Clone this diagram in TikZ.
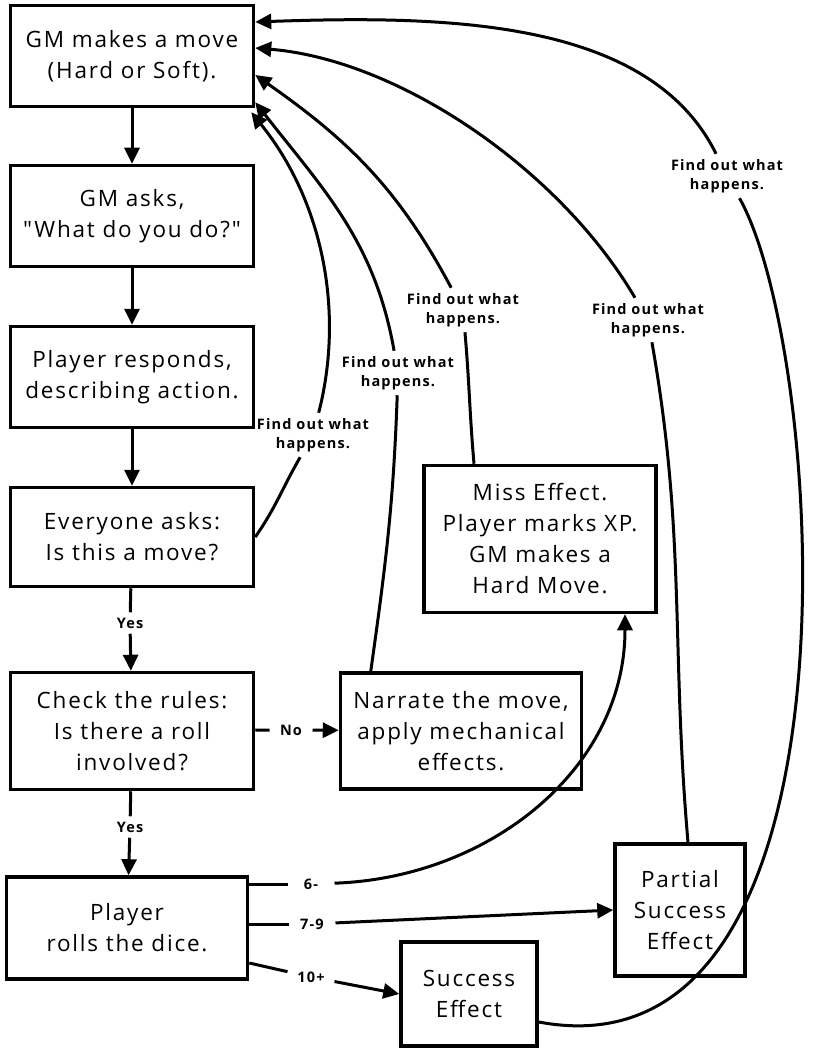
\documentclass[tikz,border=0pt]{standalone}
\usepackage{fontspec}
\setmainfont{Open Sans}[LetterSpace=8,Ligatures=TeXOff]
\usetikzlibrary{arrows.meta}
\tikzset{
	box/.style={draw,line width=3.5pt,align=center,inner sep=0pt,font=\fontsize{22.5}{31}\selectfont},
	lbl/.style={align=center,inner sep=4pt,font=\bfseries\fontsize{14.5}{19}\selectfont},
	roll lbl/.style={lbl,minimum width=44pt},
	arr/.style={-{Triangle[length=16pt,width=15pt]}},
}
\begin{document}
\begin{tikzpicture}[x=1pt,y=-1pt,line width=3pt]
		\useasboundingbox (0,0) rectangle (816,1056);
		\node[box,minimum width=243pt,minimum height=101pt] (gm) at (132,56) {GM makes a move\\(Hard or Soft).};
		\node[box,minimum width=243pt,minimum height=101pt] (ask) at (132,216) {GM asks,\\"What do you do?"};
		\node[box,minimum width=243pt,minimum height=101pt] (resp) at (132,377) {Player responds,\\describing action.};
		\node[box,minimum width=243pt,minimum height=99pt] (ever) at (132,537) {Everyone asks:\\Is this a move?};
		\node[box,minimum width=243pt,minimum height=117pt] (check) at (132,731) {Check the rules:\\Is there a roll\\involved?};
		\node[box,minimum width=241pt,minimum height=102pt] (roll) at (127,928) {Player\\rolls the dice.};
		\node[box,minimum width=241pt,minimum height=116pt] (narr) at (461,731) {Narrate the move,\\apply mechanical\\effects.};
		\node[box,minimum width=232pt,minimum height=147pt] (miss) at (540,539) {Miss Effect.\\Player marks XP.\\GM makes a\\Hard Move.};
		\node[box,minimum width=130pt,minimum height=132pt] (part) at (680,910) {Partial\\Success\\Effect};
		\node[box,minimum width=136pt,minimum height=104pt] (succ) at (469,994) {Success\\Effect};
		\node[lbl] (yes1) at (130,623) {Yes};
		\node[lbl] (yes2) at (130,827) {Yes};
		\node[lbl,minimum width=40pt] (no) at (291,730) {No};
		\node[roll lbl] (six) at (311,884) {6-};
		\node[roll lbl] (seven) at (312,924) {7-9};
		\node[roll lbl] (ten) at (311,977) {10+};
		\node[lbl] (fa) at (727,176) {Find out what\\happens.};
		\node[lbl] (fb) at (648,320) {Find out what\\happens.};
		\node[lbl] (fc) at (463,310) {Find out what\\happens.};
		\node[lbl] (fd) at (398,373) {Find out what\\happens.};
		\node[lbl] (fe) at (313,435) {Find out what\\happens.};
		\draw[arr] (gm) -- (ask);
		\draw[arr] (ask) -- (resp);
		\draw[arr] (resp) -- (ever);
		\draw (ever) -- (yes1);
		\draw[arr] (yes1) -- (check);
		\draw (check) -- (yes2);
		\draw[arr] (yes2) -- (roll);
		\draw (check) -- (no);
		\draw[arr] (no) -- (narr);
		\draw (roll.east |- six) -- (six);
		\draw[arr] (six) to[out=2,in=-90] ([xshift=85pt]miss.south);
		\draw (roll.east |- seven) -- (seven);
		\draw[arr] (seven) -- (part.west |- 0,910);
		\draw ([yshift=-35pt]roll.east) -- (ten);
		\draw[arr] (ten) -- (succ.west);
		\draw (ever.east) to[out=55,in=-120] (fe);
		\draw[arr] (fe) .. controls (345,310) and (322,200) .. ([xshift=-4pt,yshift=-4pt]gm.south east);
		\draw ([xshift=32pt]narr.north west) to[out=82,in=-92] (fd);
		\draw[arr] (fd) to[out=100,in=-52] ([yshift=6pt]gm.south east);
		\draw ([xshift=-66pt]miss.north) to[out=95,in=-85] (fc);
		\draw[arr] (fc) to[out=118,in=-35] ([yshift=-19pt]gm.east);
		\draw ([xshift=8pt]part.north) to[out=95,in=-80] (fb);
		\draw[arr] (fb) .. controls (560,170) and (400,60) .. ([yshift=8pt]gm.east);
		\draw ([yshift=-28pt]succ.east) .. controls (875,1085) and (825,350) .. (fa);
		\draw[arr] (fa) .. controls (650,20) and (450,15) .. ([yshift=34pt]gm.east);
	\end{tikzpicture}
\end{document}
